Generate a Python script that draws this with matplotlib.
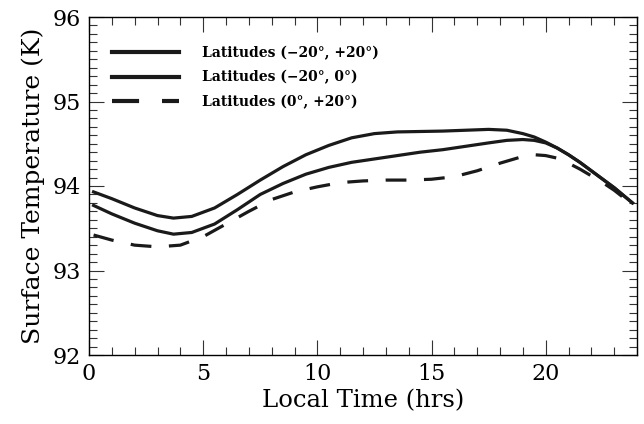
import matplotlib
matplotlib.use('Agg')
import matplotlib.pyplot as plt
from matplotlib.ticker import MultipleLocator

# values
hrs_all = [0.2, 1, 2, 3, 3.7, 4.5, 5.5, 6.5, 7.5, 8.5, 9.5, 10.5, 11.5, 12.5, 13.5,
           14.5, 15.5, 16.5, 17.5, 18.3, 19, 19.5, 20, 20.5, 21, 21.5, 22, 22.5, 23, 23.8]
temp_all = [93.93, 93.85, 93.74, 93.65, 93.62, 93.64, 93.74, 93.90, 94.07, 94.23, 94.37,
            94.48, 94.57, 94.62, 94.64, 94.645, 94.65, 94.66, 94.67, 94.66, 94.62, 94.58,
            94.52, 94.45, 94.37, 94.28, 94.18, 94.08, 93.98, 93.80]

hrs_south = [0.2, 1, 2, 3, 3.7, 4.5, 5.5, 6.5, 7.5, 8.5, 9.5, 10.5, 11.5, 12.5, 13.5,
             14.5, 15.5, 16.5, 17.5, 18.3, 19, 19.5, 20, 20.5, 21, 21.5, 22, 22.5, 23, 23.8]
temp_south = [93.77, 93.67, 93.56, 93.47, 93.43, 93.45, 93.55, 93.72, 93.90, 94.03, 94.14,
              94.22, 94.28, 94.32, 94.36, 94.40, 94.43, 94.47, 94.51, 94.54, 94.55, 94.54,
              94.51, 94.45, 94.37, 94.28, 94.18, 94.08, 93.98, 93.80]

hrs_north = [0.2, 1, 2, 3, 4, 5, 6, 7, 8, 9, 10, 11, 12, 13, 14, 15, 16, 17, 18, 19,
             19.5, 20, 20.5, 21, 21.5, 22, 22.5, 23, 23.8]
temp_north = [93.42, 93.36, 93.30, 93.28, 93.30, 93.40, 93.55, 93.70, 93.84, 93.93, 93.99,
              94.04, 94.06, 94.07, 94.07, 94.08, 94.11, 94.18, 94.27, 94.35, 94.37,
              94.36, 94.33, 94.27, 94.20, 94.12, 94.04, 93.95, 93.78]

labels = ['Latitudes (\u221220\u00b0, +20\u00b0)',
          'Latitudes (\u221220\u00b0, 0\u00b0)',
          'Latitudes (0\u00b0, +20\u00b0)']

plt.rcParams['font.family'] = 'DejaVu Serif'

fig = plt.figure(figsize=(6.44, 4.24), dpi=100, facecolor='white')
ax = fig.add_axes([89 / 644, 1 - 355 / 424, (637 - 89) / 644, (355 - 17) / 424])

ax.plot(hrs_all, temp_all, color='#1a1a1a', lw=2.3, label=labels[0])
ax.plot(hrs_south, temp_south, color='#1a1a1a', lw=2.3, label=labels[1])
ax.plot(hrs_north, temp_north, color='#1a1a1a', lw=2.3, dashes=(6.5, 5.5), label=labels[2])

ax.set_xlim(0, 24)
ax.set_ylim(92, 96)
ax.xaxis.set_major_locator(MultipleLocator(5))
ax.xaxis.set_minor_locator(MultipleLocator(1))
ax.yaxis.set_major_locator(MultipleLocator(1))
ax.yaxis.set_minor_locator(MultipleLocator(0.1))
ax.tick_params(which='both', direction='in', top=True, right=True, width=0.8, color='#333333')
ax.tick_params(which='major', length=11, labelsize=16, pad=6)
ax.tick_params(which='minor', length=5.5)
for s in ax.spines.values():
    s.set_linewidth(1.0)

ax.set_xlabel('Local Time (hrs)', fontsize=17.5, labelpad=3)
ax.set_ylabel('Surface Temperature (K)', fontsize=18, labelpad=5)

leg = ax.legend(loc='upper left', bbox_to_anchor=(0.019, 0.952), frameon=False,
                handlelength=4.8, handletextpad=1.7, labelspacing=0.75,
                prop={'weight': 'bold', 'size': 10})
for h in leg.get_lines():
    h.set_linewidth(3.0)

fig.savefig('out.png', dpi=100, facecolor='white')
